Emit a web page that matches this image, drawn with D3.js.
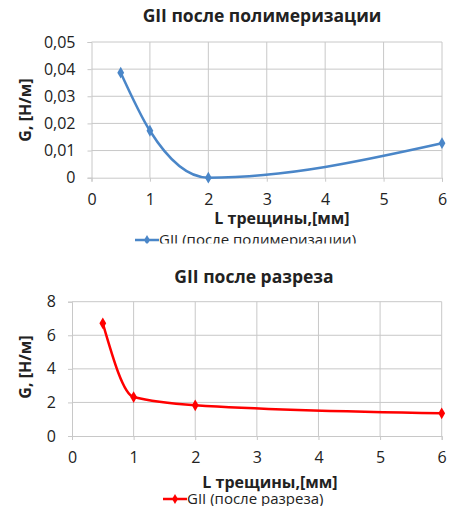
<!DOCTYPE html>
<html>
<head>
<meta charset="utf-8">
<script src="https://cdn.jsdelivr.net/npm/d3@7"></script>
<style>
  body { margin: 0; background: #fff; }
  text { font-family: "Open Sans", sans-serif; fill: #222; }
</style>
</head>
<body>
<div id="chart"></div>
<script>
// data
var lengths = [0.5, 1, 2, 6];
var gPolymer = [0.0387, 0.0173, 0, 0.0127];
var gCut = [6.71, 2.32, 1.83, 1.35];
var xTicks = [0, 1, 2, 3, 4, 5, 6];
var polymerTicks = [0, 0.01, 0.02, 0.03, 0.04, 0.05];
var cutTicks = [0, 2, 4, 6, 8];

var svgWidth = 451;
var svgHeight = 506;

var svg = d3.select("#chart")
  .append("svg")
  .attr("width", svgWidth)
  .attr("height", svgHeight);

var gridColor = "#c8c8c8";
var fmtComma = function(d) { return d === 0 ? "0" : d3.format(".2f")(d).replace(".", ","); };

function drawChart(opt) {
  var x = d3.scaleLinear().domain([0, 6]).range([opt.left, opt.right]);
  var y = d3.scaleLinear().domain(opt.yDomain).range([opt.bottom, opt.top]);
  var g = svg.append("g");

  // title
  g.append("text")
    .attr("x", opt.titleX).attr("y", opt.titleY)
    .attr("text-anchor", "middle")
    .style("font-size", "17.5px").style("font-weight", "bold")
    .text(opt.title);

  // grid lines
  g.selectAll(".hgrid").data(opt.yTicks.slice(1)).enter()
    .append("line")
    .attr("x1", opt.left).attr("x2", opt.right)
    .attr("y1", d => y(d)).attr("y2", d => y(d))
    .attr("stroke", gridColor);
  g.selectAll(".vgrid").data(xTicks.slice(1)).enter()
    .append("line")
    .attr("x1", d => x(d)).attr("x2", d => x(d))
    .attr("y1", opt.top).attr("y2", opt.bottom)
    .attr("stroke", gridColor);

  // axes
  var leftAxis = d3.axisLeft(y).tickValues(opt.yTicks).tickSize(4).tickPadding(12).tickFormat(opt.fmt);
  var bottomAxis = d3.axisBottom(x).tickValues(xTicks).tickSize(4).tickPadding(12).tickFormat(d3.format("d"));

  var ya = g.append("g").attr("transform", `translate(${opt.left},0)`).call(leftAxis);
  var xa = g.append("g").attr("transform", `translate(0,${opt.bottom})`).call(bottomAxis);
  [ya, xa].forEach(function(a) {
    a.select(".domain").attr("stroke", gridColor);
    a.selectAll(".tick line").attr("stroke", gridColor);
    a.selectAll(".tick text").style("font-size", "16px").attr("fill", "#222");
  });

  // axis titles
  g.append("text")
    .attr("transform", `translate(${opt.yLabelX},${opt.yLabelY}) rotate(-90)`)
    .attr("text-anchor", "middle").attr("dy", "0.35em")
    .style("font-size", "16px").style("font-weight", "bold")
    .text("G, [Н/м]");
  g.append("text")
    .attr("x", opt.xLabelX).attr("y", opt.xLabelY)
    .attr("text-anchor", "middle")
    .style("font-size", "16px").style("font-weight", "bold")
    .text("L трещины,[мм]");

  // smoothed line + diamond markers
  var pts = lengths.map((d, i) => [d, opt.values[i]]);
  var line = d3.line()
    .x(d => x(d[0])).y(d => y(d[1]))
    .curve(d3.curveMonotoneX);
  g.append("path").datum(pts)
    .attr("d", line)
    .attr("fill", "none").attr("stroke", opt.color).attr("stroke-width", 2.5);

  var diamond = d3.symbol().type(d3.symbolDiamond).size(40);
  g.selectAll(".pt").data(pts).enter()
    .append("path")
    .attr("d", diamond)
    .attr("transform", d => `translate(${x(d[0])},${y(d[1])})`)
    .attr("fill", opt.color);

  // legend (clipped at bottom like in the picture)
  var clipId = "clip" + opt.id;
  svg.append("clipPath").attr("id", clipId)
    .append("rect").attr("x", 0).attr("y", opt.legendY - 20).attr("width", svgWidth).attr("height", opt.legendClip - (opt.legendY - 20));
  var lg = g.append("g").attr("clip-path", `url(#${clipId})`);
  lg.append("line")
    .attr("x1", opt.legendX).attr("x2", opt.legendX + 24)
    .attr("y1", opt.legendY - 5).attr("y2", opt.legendY - 5)
    .attr("stroke", opt.color).attr("stroke-width", 2.5);
  lg.append("path")
    .attr("d", d3.symbol().type(d3.symbolDiamond).size(30))
    .attr("transform", `translate(${opt.legendX + 12},${opt.legendY - 5})`)
    .attr("fill", opt.color);
  lg.append("text")
    .attr("x", opt.legendX + 24).attr("y", opt.legendY)
    .style("font-size", "15px")
    .text(opt.legend);
}

drawChart({
  id: 1, title: "GII после полимеризации", titleX: 262, titleY: 22,
  left: 91.5, right: 442, top: 42, bottom: 177.7,
  yDomain: [0, 0.05], yTicks: polymerTicks, fmt: fmtComma,
  yLabelX: 25, yLabelY: 110, xLabelX: 282, xLabelY: 224,
  values: gPolymer, color: "#4a86c8",
  legendX: 135, legendY: 245, legendClip: 243.5, legend: "GII (после полимеризации)"
});

drawChart({
  id: 2, title: "GII после разреза", titleX: 254, titleY: 283,
  left: 72, right: 441.7, top: 301.7, bottom: 436,
  yDomain: [0, 8], yTicks: cutTicks, fmt: d3.format("d"),
  yLabelX: 25, yLabelY: 367, xLabelX: 270, xLabelY: 488,
  values: gCut, color: "#ff0000",
  legendX: 163, legendY: 504, legendClip: 506, legend: "GII (после разреза)"
});
</script>
</body>
</html>
